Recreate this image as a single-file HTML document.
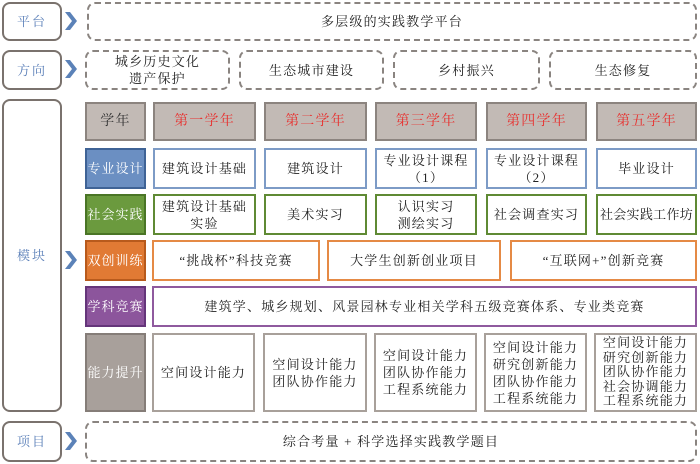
<!DOCTYPE html>
<html><head><meta charset="utf-8"><style>
body{margin:0;width:700px;height:464px;background:#fff;position:relative;overflow:hidden;font-family:"Liberation Serif","Noto Serif CJK SC",serif;font-size:13px;color:#222;letter-spacing:1.2px}
.b{position:absolute;box-sizing:border-box;display:flex;align-items:center;justify-content:center;text-align:center;line-height:17px}
.l{border:2px solid #7a726d;border-radius:8px;color:#5a7fb8;font-size:13px;letter-spacing:2px}
.d{border:2px dashed #8a8480;border-radius:8px}
.h{background:#c2bab5;border:2px solid #8c847f;color:#e8302e;font-size:14px}
.chev{position:absolute;left:65px;width:12px;height:18px}
.w{background:#fff}
.bl{border:2px solid #7d9bc6}.gr{border:2px solid #5f8a34}.or{border:2px solid #e58a45}.pu{border:2px solid #8f5a9e}.gy{border:2px solid #a8a09a}
.lab{color:#fff;font-size:13px;letter-spacing:1px}
</style></head><body>
<div class="b l" style="left:2px;top:2px;width:60px;height:39px">平台</div>
<div class="b l" style="left:2px;top:50px;width:60px;height:40px">方向</div>
<div class="b l" style="left:2px;top:99px;width:60px;height:313px">模块</div>
<div class="b l" style="left:2px;top:421px;width:60px;height:41px">项目</div>
<svg class="chev" style="top:12px" viewBox="0 0 12 18"><path d="M0 0H5L12 9L5 18H0L7 9Z" fill="#5b82b8"/></svg>
<svg class="chev" style="top:60px" viewBox="0 0 12 18"><path d="M0 0H5L12 9L5 18H0L7 9Z" fill="#5b82b8"/></svg>
<svg class="chev" style="top:251px" viewBox="0 0 12 18"><path d="M0 0H5L12 9L5 18H0L7 9Z" fill="#5b82b8"/></svg>
<svg class="chev" style="top:432px" viewBox="0 0 12 18"><path d="M0 0H5L12 9L5 18H0L7 9Z" fill="#5b82b8"/></svg>

<div class="b d" style="left:87px;top:2px;width:610px;height:39px">多层级的实践教学平台</div>
<div class="b d" style="left:85px;top:50px;width:145px;height:40px">城乡历史文化<br>遗产保护</div>
<div class="b d" style="left:239px;top:50px;width:145px;height:40px">生态城市建设</div>
<div class="b d" style="left:393px;top:50px;width:147px;height:40px">乡村振兴</div>
<div class="b d" style="left:549px;top:50px;width:148px;height:40px">生态修复</div>

<div class="b h" style="left:85px;top:102px;width:61px;height:39px;color:#333">学年</div>
<div class="b h" style="left:153px;top:102px;width:103px;height:39px">第一学年</div>
<div class="b h" style="left:264px;top:102px;width:103px;height:39px">第二学年</div>
<div class="b h" style="left:375px;top:102px;width:102px;height:39px">第三学年</div>
<div class="b h" style="left:486px;top:102px;width:101px;height:39px">第四学年</div>
<div class="b h" style="left:596px;top:102px;width:101px;height:39px">第五学年</div>

<div class="b lab" style="left:85px;top:148px;width:61px;height:41px;background:#6b8fc2;border:2px solid #3f6396">专业设计</div>
<div class="b w bl" style="left:153px;top:148px;width:103px;height:41px">建筑设计基础</div>
<div class="b w bl" style="left:264px;top:148px;width:103px;height:41px">建筑设计</div>
<div class="b w bl" style="left:375px;top:148px;width:102px;height:41px">专业设计课程<br>（1）</div>
<div class="b w bl" style="left:486px;top:148px;width:101px;height:41px">专业设计课程<br>（2）</div>
<div class="b w bl" style="left:596px;top:148px;width:101px;height:41px">毕业设计</div>

<div class="b lab" style="left:85px;top:194px;width:61px;height:41px;background:#6b9a3e;border:2px solid #4a7526">社会实践</div>
<div class="b w gr" style="left:153px;top:194px;width:103px;height:41px">建筑设计基础<br>实验</div>
<div class="b w gr" style="left:264px;top:194px;width:103px;height:41px">美术实习</div>
<div class="b w gr" style="left:375px;top:194px;width:102px;height:41px">认识实习<br>测绘实习</div>
<div class="b w gr" style="left:486px;top:194px;width:101px;height:41px">社会调查实习</div>
<div class="b w gr" style="left:596px;top:194px;width:101px;height:41px;letter-spacing:0.3px">社会实践工作坊</div>

<div class="b lab" style="left:85px;top:240px;width:61px;height:41px;background:#e17a34;border:2px solid #b85a1c">双创训练</div>
<div class="b w or" style="left:152px;top:240px;width:168px;height:41px">“挑战杯”科技竞赛</div>
<div class="b w or" style="left:327px;top:240px;width:174px;height:41px">大学生创新创业项目</div>
<div class="b w or" style="left:510px;top:240px;width:187px;height:41px">“互联网+”创新竞赛</div>

<div class="b lab" style="left:85px;top:286px;width:61px;height:41px;background:#8c559c;border:2px solid #65357a">学科竞赛</div>
<div class="b w pu" style="left:152px;top:286px;width:545px;height:41px">建筑学、城乡规划、风景园林专业相关学科五级竞赛体系、专业类竞赛</div>

<div class="b lab" style="left:85px;top:333px;width:61px;height:79px;background:#a8a09b;border:2px solid #857d78">能力提升</div>
<div class="b w gy" style="left:152px;top:333px;width:103px;height:79px">空间设计能力</div>
<div class="b w gy" style="left:263px;top:333px;width:104px;height:79px">空间设计能力<br>团队协作能力</div>
<div class="b w gy" style="left:374px;top:333px;width:103px;height:79px">空间设计能力<br>团队协作能力<br>工程系统能力</div>
<div class="b w gy" style="left:484px;top:333px;width:103px;height:79px">空间设计能力<br>研究创新能力<br>团队协作能力<br>工程系统能力</div>
<div class="b w gy" style="left:594px;top:333px;width:103px;height:79px;line-height:14.5px">空间设计能力<br>研究创新能力<br>团队协作能力<br>社会协调能力<br>工程系统能力</div>

<div class="b d" style="left:85px;top:421px;width:612px;height:41px">综合考量 + 科学选择实践教学题目</div>
</body></html>
